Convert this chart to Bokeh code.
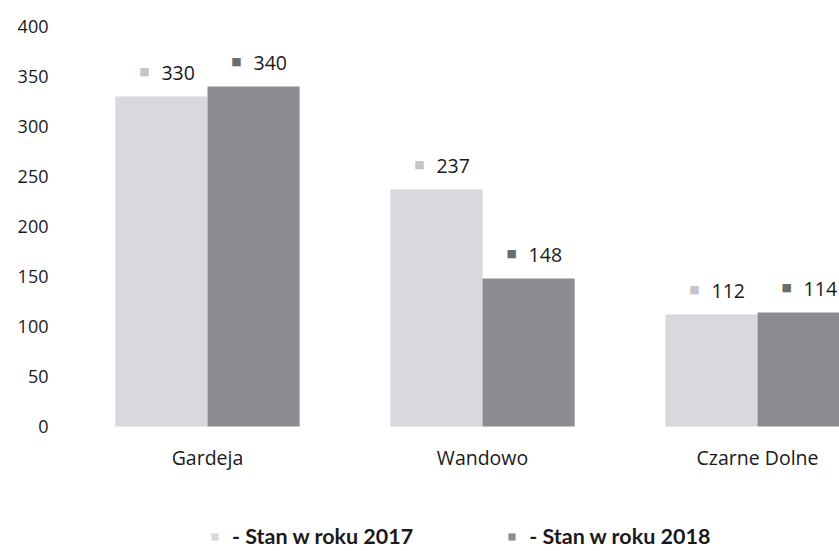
from bokeh.plotting import figure
from bokeh.models import Range1d, FixedTicker, Legend, LegendItem, ColumnDataSource
from bokeh.core.properties import value
from bokeh.embed import file_html
from bokeh.resources import INLINE

categories = ["Gardeja", "Wandowo", "Czarne Dolne"]
series_names = ["- Stan w roku 2017", "- Stan w roku 2018"]
values_2017 = [330, 237, 112]
values_2018 = [340, 148, 114]
y_ticks = [0, 50, 100, 150, 200, 250, 300, 350, 400]

bar_colors = ["#d8d8de", "#8c8d91"]
icon_colors = ["#c4c4ca", "#6a6c70"]
FONT = "Open Sans"
TEXT = "#1a1a1a"

idx = list(range(len(categories)))
half = 0.1675
bw = 0.335

p = figure(width=839, height=551, output_backend="svg", toolbar_location=None,
           x_range=Range1d(-0.5345, 2.298), y_range=Range1d(-125, 400),
           min_border_left=60, min_border_right=0, min_border_top=26,
           min_border_bottom=0)
p.outline_line_color = None
p.grid.visible = False
p.background_fill_color = "white"
p.border_fill_color = "white"
p.xaxis.visible = False

src17 = ColumnDataSource(dict(x=[i - half for i in idx], top=values_2017,
                              lab=[str(v) for v in values_2017]))
src18 = ColumnDataSource(dict(x=[i + half for i in idx], top=values_2018,
                              lab=[str(v) for v in values_2018]))
srccat = ColumnDataSource(dict(x=idx, y=[0] * len(idx), name=categories))

r17 = p.vbar(x="x", top="top", bottom=0, width=bw, source=src17,
             fill_color=bar_colors[0], line_color=None)
r18 = p.vbar(x="x", top="top", bottom=0, width=bw, source=src18,
             fill_color=bar_colors[1], line_color=None)

for src, ic in ((src17, icon_colors[0]), (src18, icon_colors[1])):
    p.text(x="x", y="top", text="lab", source=src, text_align="left",
           text_baseline="middle", y_offset=-24, x_offset=0,
           text_font=value(FONT), text_font_size="19.5px", text_color=TEXT)
    p.text(x="x", y="top", text=value("■"), source=src, text_align="center",
           text_baseline="middle", y_offset=-25, x_offset=-17,
           text_font=value("DejaVu Sans"), text_font_size="11px", text_color=ic)

# category labels under the bars
p.text(x="x", y="y", text="name", source=srccat, text_align="center",
       text_baseline="middle", y_offset=31, text_font=value(FONT),
       text_font_size="19.5px", text_color=TEXT)

# y axis
p.yaxis.ticker = FixedTicker(ticks=y_ticks)
p.yaxis.axis_line_color = None
p.yaxis.major_tick_line_color = None
p.yaxis.minor_tick_line_color = None
p.yaxis.major_tick_out = 0
p.yaxis.major_tick_in = 0
p.yaxis.major_label_standoff = 12
p.yaxis.major_label_text_font = FONT
p.yaxis.major_label_text_font_size = "18px"
p.yaxis.major_label_text_color = TEXT

legend = Legend(items=[LegendItem(label=series_names[0], renderers=[r17]),
                       LegendItem(label=series_names[1], renderers=[r18])],
                orientation="horizontal", location=(150, 2),
                glyph_width=9, glyph_height=9, label_standoff=13, spacing=94,
                padding=0, margin=0, border_line_color=None,
                background_fill_alpha=0,
                label_text_font="Lato", label_text_font_style="bold",
                label_text_font_size="21.5px", label_text_color=TEXT)
p.add_layout(legend)

open("out.html", "w").write(file_html(p, INLINE))
